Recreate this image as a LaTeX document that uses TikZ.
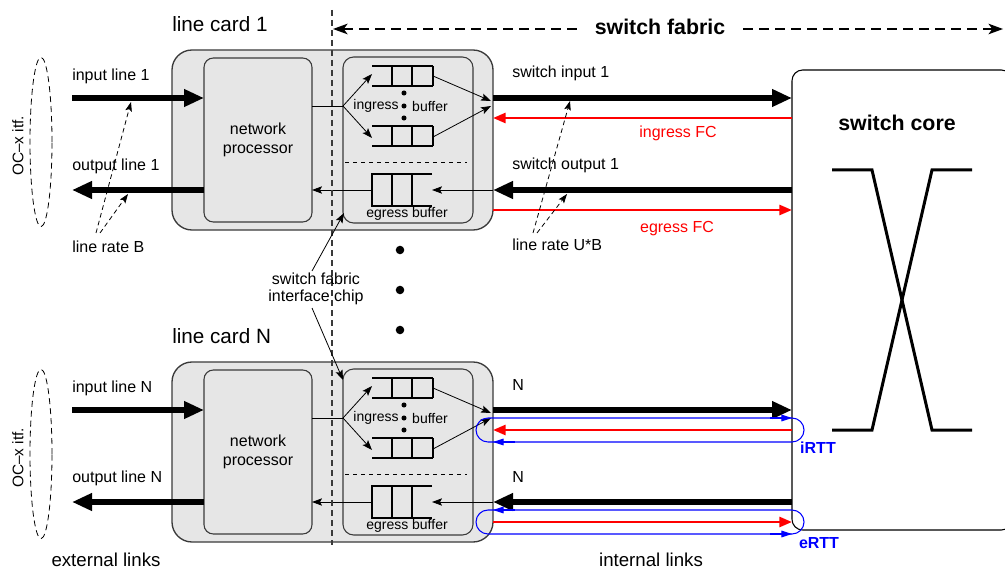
\documentclass[tikz,border=0pt]{standalone}
\usepackage{fontspec}
\setmainfont{Liberation Sans}
\usetikzlibrary{arrows.meta,fit}
\definecolor{cardgray}{HTML}{E6E6E6}
\definecolor{edgegray}{HTML}{3A3A3A}
\definecolor{fcred}{HTML}{FF0000}
\definecolor{rttblue}{HTML}{0000FF}

\tikzset{
  lbl/.style={font=\fontsize{12}{14}\selectfont, inner sep=0pt},
  smalllbl/.style={font=\fontsize{10.5}{12}\selectfont, inner sep=0pt},
  cardbox/.style={draw=edgegray, line width=1pt, fill=cardgray, rounded corners=15pt, inner sep=0pt},
  innerbox/.style={draw=edgegray, line width=0.8pt, fill=cardgray, rounded corners=7pt, inner sep=0pt},
  datalink/.style={line width=3.9pt, -{Triangle[length=15pt,width=12.5pt]}},
  fclink/.style={draw=fcred, line width=2pt, -{Triangle[length=9.5pt,width=7.5pt]}},
  thinline/.style={line width=0.6pt},
  thinarrow/.style={line width=0.6pt, -{Stealth[length=7.5pt,width=5.5pt,inset=1.5pt]}},
  ratearrow/.style={dash pattern=on 3.5pt off 2.5pt, line width=0.6pt, -{Stealth[length=7pt,width=5pt,inset=1.5pt]}},
  queue/.style={line width=1pt},
  rttloop/.style={draw=rttblue, line width=0.8pt, rounded corners=9pt},
  rtttip/.style={draw=rttblue, line width=0.8pt, -{Triangle[length=8pt,width=5pt]}},
  fabricarrow/.style={dash pattern=on 7.5pt off 4.5pt, line width=0.8pt,
    {Stealth[length=11pt,width=8pt,inset=3pt]}-{Stealth[length=11pt,width=8pt,inset=3pt]}},
}

\begin{document}
\begin{tikzpicture}[x=0.75pt,y=-0.75pt]
\useasboundingbox (0,0) rectangle (1005,570);
\clip (0,0) rectangle (1005,570);

% switch core
\node[fit={(792,70) (1012,530)}, inner sep=0pt, draw, line width=0.8pt, fill=white, rounded corners=8pt] (core) {};
\node[font=\bfseries\fontsize{16}{18}\selectfont, inner sep=0pt] (corelbl) at (897,123) {switch core};
\draw[line width=2.25pt] (832,170) -- (872,170) -- (932,430) -- (972,430);
\draw[line width=2.25pt] (972,170) -- (932,170) -- (872,430) -- (832,430);

% the two line cards with their links
\foreach \n/\dy in {1/0,N/312}{
\begin{scope}[shift={(0,\dy)}]
  \node[cardbox, fit={(172,50) (493,230)}] (card\n) {};
  \node[innerbox, fit={(204,58) (312,222)}] (np\n) {};
  \node[lbl, align=center, font=\fontsize{12}{14}\selectfont] at (np\n) {network\\processor};
  \node[innerbox, rounded corners=8pt, fit={(343,57) (473,223)}] (chip\n) {};
  \node[anchor=west, font=\fontsize{15.5}{18}\selectfont, inner sep=0pt] at (172,24) {line card \n};

  % ingress queues
  \foreach \q in {66,126}{
    \draw[queue] (372,\q) -- (433,\q) (372,\q+20) -- (433,\q+20)
      (392,\q) -- (392,\q+20) (412,\q) -- (412,\q+20) (433,\q) -- (433,\q+20);
  }
  \coordinate (fork\n) at (343,106);
  \draw[thinline] (312,106) -- (fork\n);
  \draw[thinarrow] (fork\n) -- (372,74);
  \draw[thinarrow] (fork\n) -- (372,138);
  \draw[thinarrow] (433,76) -- (491,101);
  \draw[thinarrow] (433,137) -- (491,106);
  \fill (404,93) circle (1.9pt) (404,106) circle (1.9pt) (404,118) circle (1.9pt);
  \node[smalllbl] at (376,106) {ingress};
  \node[smalllbl] at (430,106) {buffer};
  \draw[dashed, line width=0.6pt] (345,162) -- (467,162);

  % egress queue
  \draw[queue] (432,174) -- (372,174) -- (372,206) -- (432,206)
    (392,174) -- (392,206) (412,174) -- (412,206);
  \draw[thinarrow] (372,190) -- (312,190);
  \draw[thinarrow] (493,190) -- (432,190);
  \node[smalllbl] at (407,214) {egress buffer};

  % external side
  \draw[dash pattern=on 4.5pt off 3pt, line width=0.6pt] (41,142) ellipse [x radius=8.25pt, y radius=63.5pt];
  \node[rotate=90, font=\fontsize{11.5}{13}\selectfont, inner sep=0pt] at (18,146) {OC--x itf.};
  \draw[datalink] (72,98) -- (204,98);
  \draw[datalink] (204,190) -- (72,190);
  \node[lbl, anchor=west] at (72,76) {input line \n};
  \node[lbl, anchor=west] at (72,166) {output line \n};

  % internal side
  \draw[datalink] (493,98) -- (792,98);
  \draw[fclink] (792,118) -- (493,118);
  \draw[datalink] (792,190) -- (493,190);
  \draw[fclink] (493,210) -- (792,210);
\end{scope}
}

% labels of line card 1
\node[lbl, anchor=west] at (512,73) {switch input 1};
\node[lbl, text=fcred] at (678,133) {ingress FC};
\node[lbl, anchor=west] at (512,165) {switch output 1};
\node[lbl, text=fcred] at (677,229) {egress FC};
\node[lbl, anchor=west] (rateU) at (512,245) {line rate U*B};
\node[lbl, anchor=west] (rateB) at (72,247) {line rate B};
\draw[ratearrow] (96,233) -- (131,102);
\draw[ratearrow] (100,233) -- (128,194);
\draw[ratearrow] (533,233) -- (570,101);
\draw[ratearrow] (537,233) -- (567,194);

% labels and round-trip loops of line card N
\node[lbl, anchor=west] at (512,385) {N};
\node[lbl, anchor=west] at (512,477) {N};
\draw[rttloop] (476,418) rectangle (804,442);
\draw[rtttip] (770,418) -- (792,418);
\draw[rtttip] (515,442) -- (493,442);
\draw[rttloop] (476,510) rectangle (804,534);
\draw[rtttip] (515,510) -- (493,510);
\draw[rtttip] (770,534) -- (792,534);
\node[lbl, font=\bfseries\fontsize{12}{14}\selectfont, text=rttblue] at (818,448) {iRTT};
\node[lbl, font=\bfseries\fontsize{12}{14}\selectfont, text=rttblue] at (819,543) {eRTT};

% fabric boundary and extent
\draw[dash pattern=on 4.5pt off 3pt, line width=1pt, draw=edgegray] (332,10) -- (332,545);
\draw[fabricarrow] (333,29) -- (1003,29);
\node[fill=white, inner xsep=11pt, inner ysep=2pt, font=\bfseries\fontsize{16}{18}\selectfont] at (660,27) {switch fabric};

% interface chip callout and elision dots
\node[lbl, align=center, font=\fontsize{12}{12.5}\selectfont] (sfic) at (316,289) {switch fabric\\interface chip};
\draw[thinarrow] (312,271) -- (344,213);
\draw[thinarrow] (312,308) -- (343,380);
\fill (400,250) circle (3.2pt) (400,290) circle (3.2pt) (400,330) circle (3.2pt);

% bottom captions
\node[font=\fontsize{14}{16}\selectfont, inner sep=0pt] at (106,560) {external links};
\node[font=\fontsize{14}{16}\selectfont, inner sep=0pt] at (651,560) {internal links};
\end{tikzpicture}
\end{document}
